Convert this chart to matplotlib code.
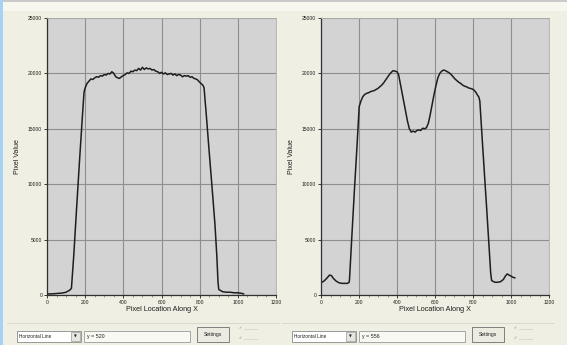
import matplotlib
matplotlib.use("Agg")
import matplotlib.pyplot as plt
from matplotlib.patches import Rectangle

plt.rcParams['font.family'] = ['Liberation Sans', 'DejaVu Sans']

# ---- profile data -------------------------------------------------------
x_left = [0, 20, 40, 60, 80, 100, 110, 120, 128, 140, 155, 170, 185, 194,
          200, 210, 220, 230, 240, 250, 260, 270, 280, 290, 300, 310, 320,
          330, 340, 350, 360, 370, 380, 390, 400, 410, 420, 430, 440, 450,
          460, 470, 480, 490, 500, 510, 520, 530, 540, 550, 560, 570, 580,
          590, 600, 610, 620, 630, 640, 650, 660, 670, 680, 690, 700, 710,
          720, 730, 740, 750, 760, 770, 780, 790, 800, 810, 818, 823, 835,
          850, 865, 880, 890, 896, 900, 920, 940, 960, 980, 1000, 1020, 1030]
y_left = [100, 100, 120, 150, 180, 250, 350, 450, 600, 3500, 7800, 12000,
          16000, 18300, 18700, 19100, 19300, 19500, 19450, 19600, 19700,
          19650, 19800, 19750, 19900, 19850, 20000, 19950, 20150, 20000,
          19700, 19600, 19550, 19700, 19800, 19900, 20050, 20000, 20200,
          20150, 20300, 20250, 20450, 20300, 20550, 20350, 20500, 20400,
          20450, 20300, 20350, 20200, 20150, 20000, 20100, 19950, 20050,
          19900, 19950, 20000, 19850, 19950, 19800, 19900, 19850, 19700,
          19800, 19750, 19800, 19650, 19700, 19550, 19500, 19400, 19200,
          19050, 18900, 18700, 16200, 12900, 9700, 6400, 3500, 1200, 500,
          300, 250, 250, 200, 200, 150, 100]

x_right = [0, 15, 30, 45, 55, 65, 80, 95, 110, 125, 140, 148, 150, 163, 176,
           189, 201, 210, 220, 230, 240, 250, 260, 270, 280, 290, 300, 310,
           320, 330, 340, 350, 360, 370, 380, 390, 400, 408, 415, 425, 435,
           445, 455, 465, 475, 485, 495, 505, 515, 525, 535, 545, 555, 565,
           575, 585, 595, 605, 615, 625, 635, 645, 655, 665, 675, 685, 695,
           705, 715, 725, 735, 745, 755, 765, 775, 785, 795, 805, 815, 825,
           830, 836, 848, 860, 872, 884, 893, 898, 915, 930, 945, 960, 970,
           980, 990, 1000, 1010, 1020]
y_right = [1100, 1250, 1500, 1800, 1750, 1500, 1250, 1100, 1050, 1050, 1050,
           1150, 1400, 5500, 9500, 13300, 17000, 17500, 17900, 18100, 18200,
           18250, 18350, 18400, 18450, 18550, 18650, 18800, 18950, 19150,
           19400, 19650, 19900, 20100, 20250, 20200, 20150, 19900, 19300,
           18400, 17500, 16600, 15700, 15000, 14700, 14800, 14700, 14850,
           14900, 14850, 15050, 15000, 15100, 15500, 16300, 17200, 18100,
           18900, 19600, 20000, 20200, 20300, 20250, 20150, 20050, 19900,
           19700, 19500, 19350, 19200, 19100, 18950, 18850, 18800, 18700,
           18650, 18600, 18500, 18300, 18000, 17900, 17500, 14200, 11000,
           7800, 4500, 2000, 1300, 1150, 1150, 1200, 1400, 1700, 1900, 1800,
           1700, 1600, 1550]

x_ticks = [0, 200, 400, 600, 800, 1000, 1200]
y_ticks = [0, 5000, 10000, 15000, 20000, 25000]
x_title = "Pixel Location Along X"
y_title = "Pixel Value"
mode_label = "Horizontal Line"
row_labels = ["y = 520", "y = 556"]
button_label = "Settings"

W, H = 567, 345
BG = "#efefe3"
PLOT_BG = "#d3d3d3"
GRID = "#8e8e8e"
INK = "#1e1e1e"

fig = plt.figure(figsize=(W / 100, H / 100), dpi=100, facecolor=BG)

# full-figure layer in pixel units for the window chrome and controls
ui = fig.add_axes([0, 0, 1, 1], zorder=0)
ui.set_xlim(0, W)
ui.set_ylim(H, 0)
ui.axis("off")
ui.add_patch(Rectangle((0, 0), W, 2, color="#cacaca", lw=0))
ui.add_patch(Rectangle((0, 2), W, 9, color="#f7f7ef", lw=0))
ui.add_patch(Rectangle((0, 0), 3, H, color="#a6d2f6", lw=0))


def px_axes(x0, x1, y0, y1):
    return fig.add_axes([x0 / W, 1 - y1 / H, (x1 - x0) / W, (y1 - y0) / H],
                        zorder=1)


def style(ax, xs, ys):
    ax.set_facecolor(PLOT_BG)
    ax.plot(xs, ys, color=INK, lw=1.1, solid_joinstyle="round")
    ax.set_xlim(0, 1200)
    ax.set_ylim(0, 25000)
    ax.set_xticks(x_ticks)
    ax.set_yticks(y_ticks)
    ax.set_xticklabels([str(v) for v in x_ticks])
    ax.set_yticklabels([str(v) for v in y_ticks])
    ax.set_xticks(range(0, 1201, 50), minor=True)
    ax.grid(True, which="major", color=GRID, lw=0.8)
    ax.tick_params(which="major", length=2, width=0.6, pad=1.5,
                   labelsize=3.6, colors=INK)
    ax.tick_params(which="minor", length=1.2, width=0.4, color="#555555")
    for side in ("left", "bottom"):
        ax.spines[side].set_color("#303030")
        ax.spines[side].set_linewidth(0.9)
    for side in ("top", "right"):
        ax.spines[side].set_color("#b0b0b0")
        ax.spines[side].set_linewidth(0.6)
    ax.set_xlabel(x_title, fontsize=5.2, color=INK, labelpad=1)
    ax.set_ylabel(y_title, fontsize=5, color=INK, labelpad=5)


ax1 = px_axes(47, 276, 18, 295)
style(ax1, x_left, y_left)
ax2 = px_axes(321, 549, 18, 295)
style(ax2, x_right, y_right)


def controls(x0, label):
    # separator above the control row
    ui.plot([x0 - 10, x0 + 262], [323, 323], color="#d6d6cc", lw=0.6)
    # drop-down list
    ui.add_patch(Rectangle((x0, 331), 64, 11, fc="white", ec="#8a8a8a", lw=0.6))
    ui.text(x0 + 2, 336.5, mode_label, fontsize=3.4, va="center", color=INK)
    ui.add_patch(Rectangle((x0 + 54, 332), 9, 9, fc="#e6e6e0", ec="#9a9a9a",
                           lw=0.5))
    ui.text(x0 + 58.5, 336.8, "▼", fontsize=2.6, ha="center", va="center",
            color=INK, family="DejaVu Sans")
    # text field
    ui.add_patch(Rectangle((x0 + 67, 331), 106, 11, fc="#f9f9f3", ec="#9a9a9a",
                           lw=0.6))
    ui.text(x0 + 70, 336.5, label, fontsize=3.8, va="center", color=INK)
    # push button
    ui.add_patch(Rectangle((x0 + 180, 327), 32, 15, fc="#ecebe2", ec="#6e6e6e",
                           lw=0.6))
    ui.text(x0 + 196, 334.5, button_label, fontsize=3.6, ha="center",
            va="center", color=INK)
    # option markers
    ui.text(x0 + 221, 328, "✓", fontsize=2.8, color="#7a7a7a",
            family="DejaVu Sans", va="center")
    ui.text(x0 + 221, 338, "✓", fontsize=2.8, color="#7a7a7a",
            family="DejaVu Sans", va="center")
    ui.plot([x0 + 227, x0 + 240], [329, 329], color="#d0d0c8", lw=0.5)
    ui.plot([x0 + 227, x0 + 240], [339, 339], color="#d0d0c8", lw=0.5)


controls(17, row_labels[0])
controls(292, row_labels[1])

fig.savefig("out.png", dpi=100, facecolor=BG)
